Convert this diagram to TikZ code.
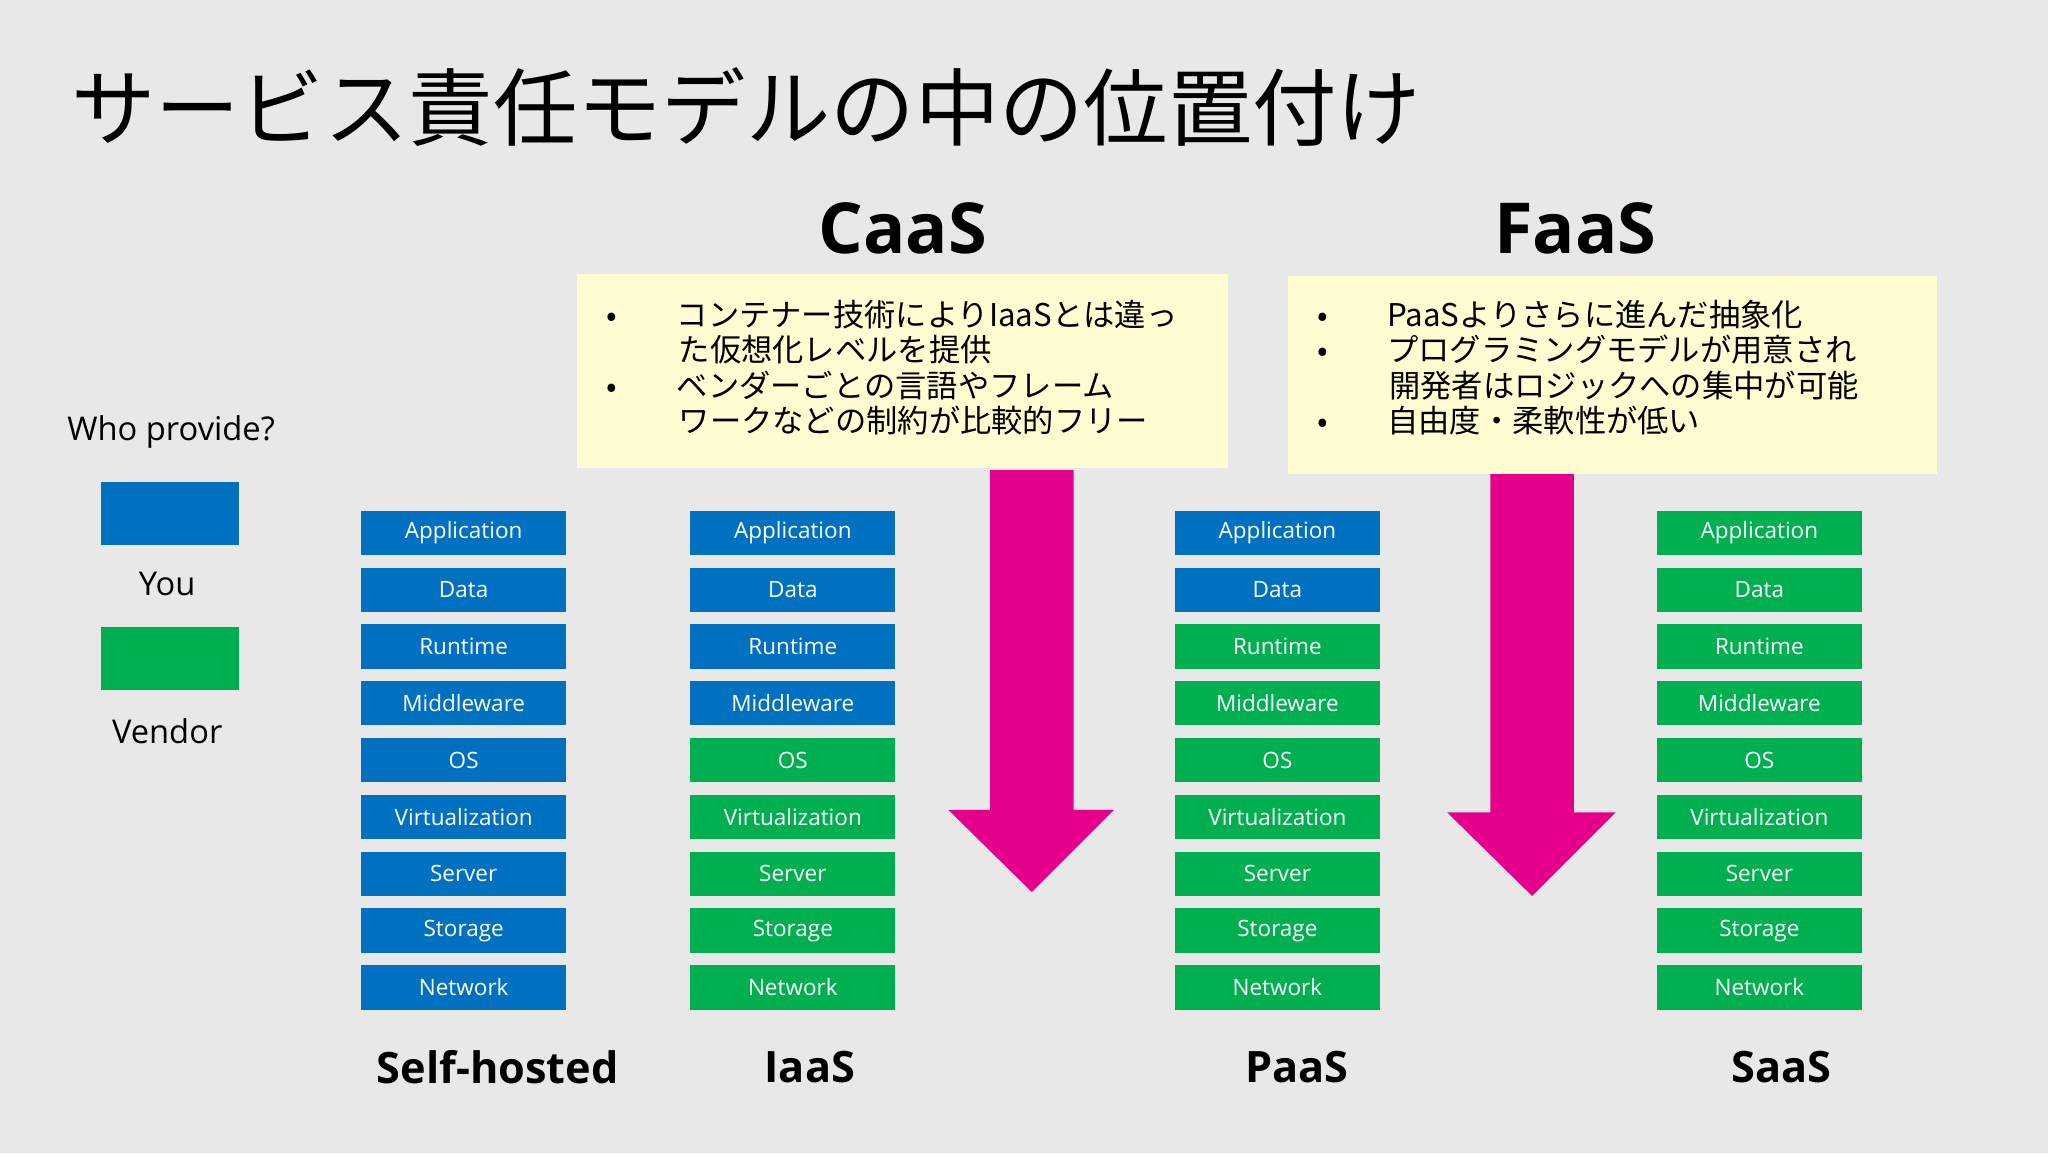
\documentclass[tikz,border=0pt]{standalone}
\usepackage{fontspec}
\setmainfont{Open Sans}
\newfontfamily\cjk{Noto Sans CJK JP}
\definecolor{bg}{HTML}{E8E8E8}
\definecolor{you}{HTML}{0070C0}
\definecolor{vendor}{HTML}{00B050}
\definecolor{memo}{HTML}{FFFCD2}
\definecolor{mag}{HTML}{E4008A}
\tikzset{
  layer/.style={minimum width=58.3pt, minimum height=12.6pt, inner sep=0pt,
    text=white, font=\fontsize{6.4}{7}\selectfont},
  collabel/.style={font=\bfseries\fontsize{12.3}{13}\selectfont},
  memobox/.style={fill=memo, draw=none},
  bullets/.style={anchor=north west, align=left, inner sep=0pt,
    font=\cjk\fontsize{8.9}{10.1}\selectfont},
  bigarrow/.style={fill=mag, draw=none}
}
\begin{document}
\begin{tikzpicture}[x=0.3715pt, y=-0.3715pt]
  \fill[bg] (0,0) rectangle (1568,883);
  \useasboundingbox (0,0) rectangle (1568,883);

  \node[anchor=west, inner sep=0pt, font=\cjk\fontsize{24}{25}\selectfont] (title) at (54,82) {サービス責任モデルの中の位置付け};

  % legend
  \node[font=\fontsize{9.3}{10}\selectfont] (who) at (131,331) {Who provide?};
  \fill[you] (77,369) rectangle (183,417);
  \node[font=\fontsize{9.3}{10}\selectfont] (you) at (128,447) {You};
  \fill[vendor] (77,480) rectangle (183,528);
  \node[font=\fontsize{9.3}{10}\selectfont] (vendor) at (128,560) {Vendor};

  % stacks: name/center x/number of blue layers
  \foreach \col/\cx/\nb in {self/355/9, iaas/607/4, paas/978/2, saas/1347/0}{
    \foreach \lbl [count=\i] in {Application,Data,Runtime,Middleware,OS,Virtualization,Server,Storage,Network}{
      \pgfmathsetmacro\yy{408+43.5*(\i-1)}
      \ifnum\i>\nb
        \node[layer, fill=vendor] (\col-\i) at (\cx,\yy) {\lbl};
      \else
        \node[layer, fill=you] (\col-\i) at (\cx,\yy) {\lbl};
      \fi
    }
  }
  \node[collabel] (lself) at (381,817) {Self-hosted};
  \node[collabel] (liaas) at (620,817) {IaaS};
  \node[collabel] (lpaas) at (993,817) {PaaS};
  \node[collabel] (lsaas) at (1364,817) {SaaS};

  % CaaS
  \node[font=\bfseries\fontsize{20}{21}\selectfont] (caas) at (691,175) {CaaS};
  \fill[memobox] (442,210) rectangle (940,358);
  \node[bullets] (caastext) at (464,229) {%
    •\hspace{1.9em}コンテナー技術によりIaaSとは違っ\\
    \hspace{2.3em}た仮想化レベルを提供\\
    •\hspace{1.9em}ベンダーごとの言語やフレーム\\
    \hspace{2.3em}ワークなどの制約が比較的フリー};
  \fill[bigarrow] (758,360) -- (822,360) -- (822,620) -- (853,620) -- (790,683)
    -- (726,620) -- (758,620) -- cycle;

  % FaaS
  \node[font=\bfseries\fontsize{20}{21}\selectfont] (faas) at (1206,175) {FaaS};
  \fill[memobox] (986,211) rectangle (1483,363);
  \node[bullets] (faastext) at (1008,229) {%
    •\hspace{1.9em}PaaSよりさらに進んだ抽象化\\
    •\hspace{1.9em}プログラミングモデルが用意され\\
    \hspace{2.3em}開発者はロジックへの集中が可能\\
    •\hspace{1.9em}自由度・柔軟性が低い};
  \fill[bigarrow] (1141,363) -- (1205,363) -- (1205,622) -- (1237,622) -- (1173,686)
    -- (1108,622) -- (1141,622) -- cycle;
\end{tikzpicture}
\end{document}
